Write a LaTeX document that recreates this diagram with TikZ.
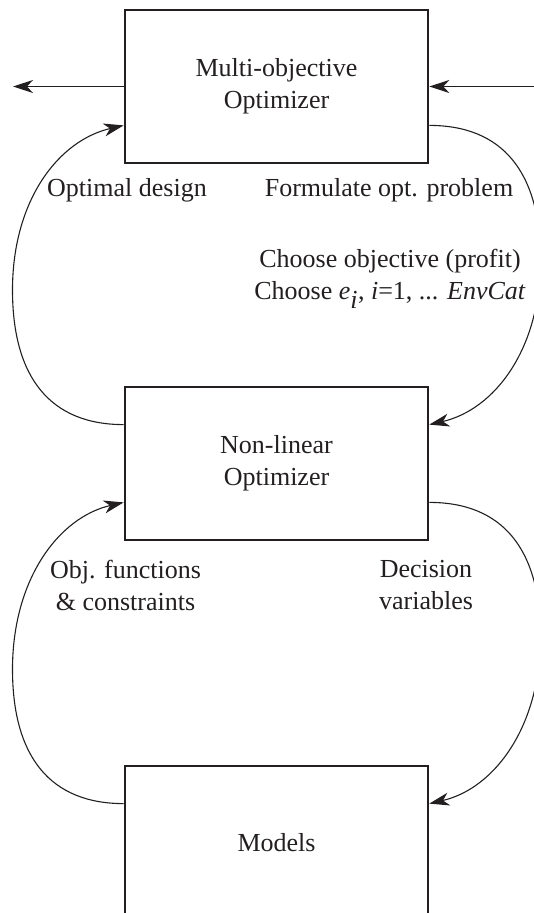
\documentclass[tikz,border=0pt]{standalone}
\usepackage{fontspec}
\setmainfont{Liberation Serif}
\usetikzlibrary{arrows.meta,calc}
\definecolor{ink}{RGB}{35,31,32}
\begin{document}
\begin{tikzpicture}[x=1pt,y=-1pt,
  every node/.style={text=ink,font=\fontsize{26}{32}\selectfont},
  block/.style={draw=ink,line width=2.6pt,minimum width=303pt,minimum height=153pt,
    align=center,inner sep=0pt},
  lbl/.style={align=center,inner sep=0pt},
  tip/.style={-{Stealth[length=20pt,width=13pt,inset=6pt]}},
  flow/.style={draw=ink,line width=1.1pt,tip},
  feed/.style={draw=ink,line width=1.4pt,tip}]
\useasboundingbox (0,0) rectangle (533,913);

% blocks
\node[block] (mo)  at (276.5,86.5)  {Multi-objective\\Optimizer};
\node[block] (nl)  at (276.5,463.5) {Non-linear\\Optimizer};
\node[block] (mod) at (276.5,842.5) {Models};

% attachment points at a quarter of the box height
\coordinate (moSW) at ($(mo.west)!0.5!(mo.south west)$);
\coordinate (moSE) at ($(mo.east)!0.5!(mo.south east)$);
\coordinate (nlNW) at ($(nl.west)!0.5!(nl.north west)$);
\coordinate (nlNE) at ($(nl.east)!0.5!(nl.north east)$);
\coordinate (nlSW) at ($(nl.west)!0.5!(nl.south west)$);
\coordinate (nlSE) at ($(nl.east)!0.5!(nl.south east)$);
\coordinate (modNW) at ($(mod.west)!0.5!(mod.north west)$);
\coordinate (modNE) at ($(mod.east)!0.5!(mod.north east)$);

% outer ends of the two horizontal arrows
\coordinate (outL) at (13,86.5);
\coordinate (inR)  at (545,86.5);
\draw[feed] (mo.west) -- (outL);
\draw[feed] (inR) -- (mo.east);

% turning points of the loops
\coordinate (lt1) at (12.5,290);
\coordinate (rt1) at (540.5,259.75);
\coordinate (lt2) at (12.5,669.25);
\coordinate (rt2) at (540.5,636.75);

% upper loop
\draw[flow] (nlNW) .. controls +(-73,0) and +(0,88) .. (lt1)
                   .. controls +(0,-90) and +(-65,15) .. (moSW);
\draw[flow] (moSE) .. controls +(73,0) and +(0,-88) .. (rt1)
                   .. controls +(0,90) and +(65,-15) .. (nlNE);
% lower loop
\draw[flow] (modNW) .. controls +(-73,0) and +(0,88) .. (lt2)
                    .. controls +(0,-90) and +(-65,15) .. (nlSW);
\draw[flow] (nlSE) .. controls +(73,0) and +(0,-88) .. (rt2)
                   .. controls +(0,90) and +(65,-15) .. (modNE);

% labels
\node[lbl,anchor=base] (od) at (127,196) {Optimal design};
\node[lbl,anchor=base] (fp) at (389,196) {Formulate opt. problem};
\node[lbl] (ch) at (390,279) {Choose objective (profit)\\
  Choose \textit{e}$_{\textit{i}}$, \textit{i}=1, ... \textit{EnvCat}};
\node[lbl] (of) at (125.5,585) {Obj. functions\\\& constraints};
\node[lbl] (dv) at (426,585) {Decision\\variables};
\end{tikzpicture}
\end{document}
